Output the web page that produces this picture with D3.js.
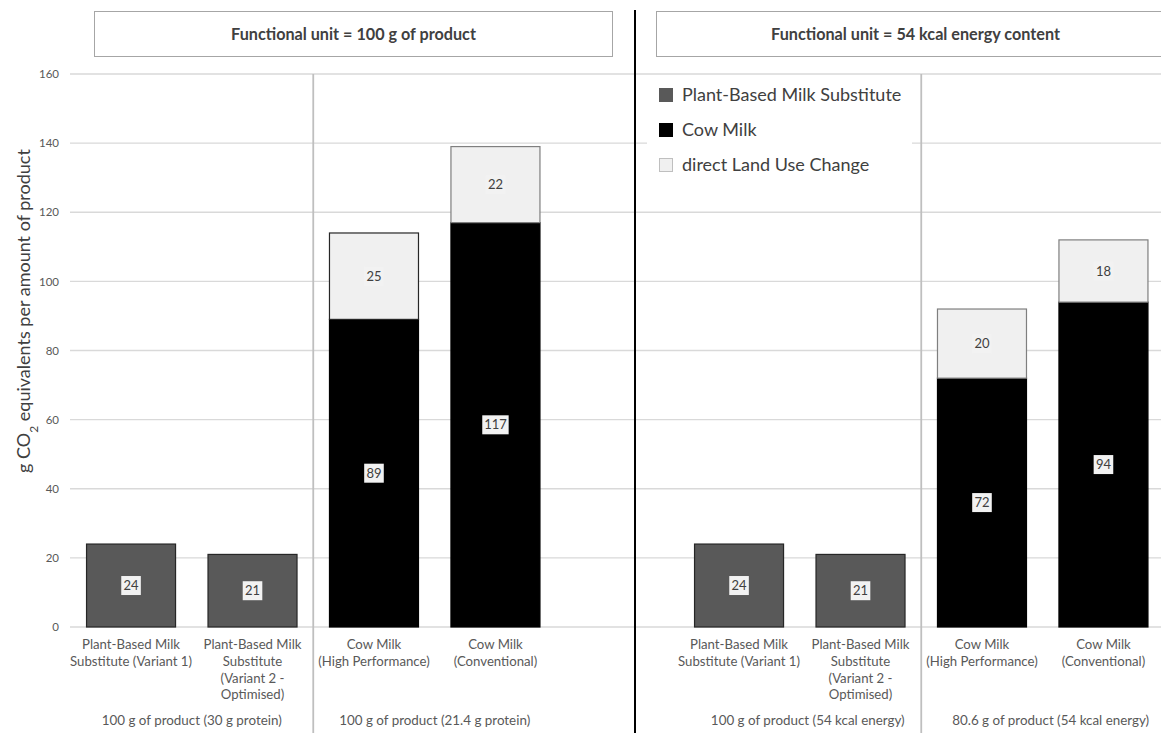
<!DOCTYPE html>
<html>
<head>
<meta charset="utf-8">
<script src="https://cdn.jsdelivr.net/npm/d3@7"></script>
<style>
  html, body { margin: 0; padding: 0; background: #fff; }
  svg { display: block; font-family: Lato, "Open Sans", sans-serif; }
</style>
</head>
<body>
<svg id="chart" width="1161" height="733"></svg>
<script>
// Panel titles (functional units)
const panelTitles = ["Functional unit = 100 g of product", "Functional unit = 54 kcal energy content"];

// Product categories, shared by both panels
const categories = ["PB1", "PB2", "CowHP", "CowConv"];
const categoryLines = [
  ["Plant-Based Milk", "Substitute (Variant 1)"],
  ["Plant-Based Milk", "Substitute", "(Variant 2 -", "Optimised)"],
  ["Cow Milk", "(High Performance)"],
  ["Cow Milk", "(Conventional)"]
];

// Emissions in g CO2-eq, one row per panel
const plantBased = [[24, 21, 0, 0], [24, 21, 0, 0]];
const cowMilk    = [[0, 0, 89, 117], [0, 0, 72, 94]];
const landUse    = [[0, 0, 25, 22], [0, 0, 20, 18]];

// Reference amounts below each pair of products
const groupLabels = [
  ["100 g of product (30 g protein)", "100 g of product (21.4 g protein)"],
  ["100 g of product (54 kcal energy)", "80.6 g of product (54 kcal energy)"]
];

const seriesNames = ["Plant-Based Milk Substitute", "Cow Milk", "direct Land Use Change"];
const seriesKeys = ["plant", "cow", "dluc"];
const yTicks = [0, 20, 40, 60, 80, 100, 120, 140, 160];

// Styling
const fills = { plant: "#595959", cow: "#000000", dluc: "#f0f0f0" };
const strokes = { plant: "#262626", cow: "#000000", dluc: "#7f7f7f" };
const textColor = "#404040";
const axisColor = "#595959";
const gridColor = "#d9d9d9";

const svg = d3.select("#chart");

const y = d3.scaleLinear().domain([0, 160]).range([627, 74]);

// Each panel gets its own band scale
const panelRanges = [[70.25, 556.25], [678.25, 1164.25]];
const groupShift = [0, 8];
const xScales = panelRanges.map(r =>
  d3.scaleBand().domain(categories).range(r).paddingInner(0.259).paddingOuter(0.13)
);

// Horizontal gridlines
const grid = svg.append("g");
grid.selectAll("line").data(yTicks).join("line")
  .attr("x1", 70).attr("x2", 1161)
  .attr("y1", d => y(d)).attr("y2", d => y(d))
  .attr("stroke", gridColor).attr("stroke-width", 1.3);

// Y axis tick labels
const yAxis = d3.axisLeft(y).tickValues(yTicks).tickSize(0).tickPadding(11);
const yg = svg.append("g").attr("transform", "translate(70,0)").call(yAxis);
yg.select(".domain").remove();
yg.selectAll("text").attr("fill", axisColor).style("font-size", "11.5px")
  .style("font-family", "Lato, sans-serif");

// Y axis title with subscript
const yTitle = svg.append("text")
  .attr("transform", "translate(30,311) rotate(-90)")
  .attr("text-anchor", "middle")
  .attr("fill", textColor)
  .style("font-size", "18px");
yTitle.append("tspan").text("g CO");
yTitle.append("tspan").text("2").attr("baseline-shift", "sub").style("font-size", "12px");
yTitle.append("tspan").text(" equivalents per amount of product");

// Legend sits over the right panel grid
const legendG = svg.append("g");
legendG.append("rect").attr("x", 647).attr("y", 80).attr("width", 265).attr("height", 108).attr("fill", "#fff");

panelTitles.forEach((title, p) => {
  const x = xScales[p];
  const rows = categories.map((c, i) => ({
    cat: c, plant: plantBased[p][i], cow: cowMilk[p][i], dluc: landUse[p][i]
  }));
  const stacked = d3.stack().keys(seriesKeys)(rows);

  // Panel header box
  const boxX = p === 0 ? 94.5 : 656.5;
  svg.append("rect").attr("x", boxX).attr("y", 11.5).attr("width", 518).attr("height", 45)
    .attr("fill", "#fff").attr("stroke", "#a6a6a6").attr("stroke-width", 1);
  svg.append("text").attr("x", boxX + 259).attr("y", 39.5)
    .attr("text-anchor", "middle").attr("fill", textColor)
    .style("font-size", "16.2px").style("font-weight", "bold").text(title);

  // Gray divider between product groups
  const midX = (x("PB2") + x.bandwidth() + x("CowHP")) / 2;
  svg.append("line").attr("x1", midX).attr("x2", midX).attr("y1", 74).attr("y2", 733)
    .attr("stroke", "#bfbfbf").attr("stroke-width", 1.8);

  // Stacked bars
  const bars = svg.append("g");
  stacked.forEach(layer => {
    const key = layer.key;
    layer.forEach((d, i) => {
      const v = d[1] - d[0];
      if (v <= 0) return;
      let stroke = strokes[key];
      if (key === "dluc" && p === 0 && i === 2) stroke = "#262626";
      bars.append("rect")
        .attr("x", x(categories[i]) + 0.5)
        .attr("y", y(d[1]))
        .attr("width", x.bandwidth() - 1)
        .attr("height", y(d[0]) - y(d[1]))
        .attr("fill", fills[key])
        .attr("stroke", stroke)
        .attr("stroke-width", 1.2);
    });
  });

  // Value labels centred in each segment
  const labels = svg.append("g");
  stacked.forEach(layer => {
    layer.forEach((d, i) => {
      const v = d[1] - d[0];
      if (v <= 0) return;
      const cx = x(categories[i]) + x.bandwidth() / 2;
      const cy = y((d[0] + d[1]) / 2);
      const txt = String(v);
      const w = txt.length * 6.8 + 6;
      labels.append("rect").attr("x", cx - w / 2).attr("y", cy - 9.5)
        .attr("width", w).attr("height", 19).attr("fill", "#f2f2f2");
      labels.append("text").attr("x", cx).attr("y", cy + 4.5)
        .attr("text-anchor", "middle").attr("fill", textColor)
        .style("font-size", "13px").text(txt);
    });
  });

  // Category labels
  categories.forEach((c, i) => {
    const cx = x(c) + x.bandwidth() / 2;
    const t = svg.append("text").attr("text-anchor", "middle").attr("fill", axisColor)
      .style("font-size", "13.2px");
    categoryLines[i].forEach((line, k) => {
      t.append("tspan").attr("x", cx).attr("y", 649 + k * 16.8).text(line);
    });
  });

  // Group labels under each pair
  [[0, 1], [2, 3]].forEach((pair, g) => {
    const cx = (x(categories[pair[0]]) + x(categories[pair[1]]) + x.bandwidth()) / 2 + groupShift[p];
    svg.append("text").attr("x", cx).attr("y", 725)
      .attr("text-anchor", "middle").attr("fill", axisColor)
      .style("font-size", "13.4px").text(groupLabels[p][g]);
  });
});

// Black divider between the two functional units
svg.append("line").attr("x1", 635).attr("x2", 635).attr("y1", 10).attr("y2", 733)
  .attr("stroke", "#000").attr("stroke-width", 2);

// Legend entries
const legendRowY = [95, 130, 165];
seriesKeys.forEach((k, i) => {
  legendG.append("rect").attr("x", 659.5).attr("y", legendRowY[i] - 6.5)
    .attr("width", 13).attr("height", 13)
    .attr("fill", fills[k]).attr("stroke", k === "dluc" ? "#bfbfbf" : fills[k]).attr("stroke-width", 1);
  legendG.append("text").attr("x", 682).attr("y", legendRowY[i] + 6)
    .attr("fill", textColor).style("font-size", "18px").text(seriesNames[i]);
});
</script>
</body>
</html>
